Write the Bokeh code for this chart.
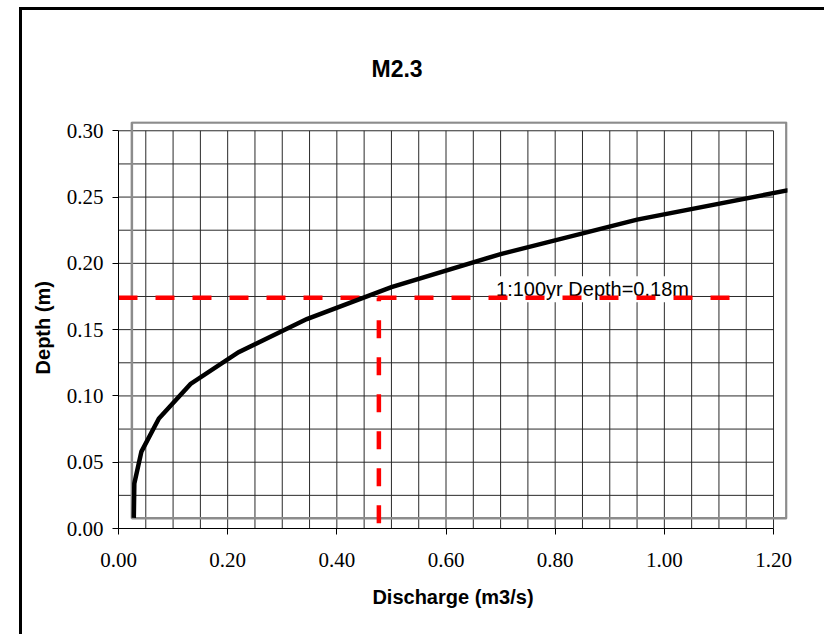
import numpy as np
from bokeh.plotting import figure
from bokeh.models import Range1d, FixedTicker, NumeralTickFormatter
from bokeh.core.properties import value
from bokeh.embed import file_html
from bokeh.resources import INLINE

# ---- data ----
discharge = [0.028, 0.029, 0.042, 0.074, 0.132, 0.220, 0.345, 0.500, 0.700, 0.950, 1.300]
depth = [0.008, 0.034, 0.058, 0.083, 0.109, 0.133, 0.158, 0.182, 0.207, 0.233, 0.261]

design_discharge = 0.477
design_depth = 0.174
design_line_end = 1.13
design_label = "1:100yr Depth=0.18m"

x_ticks = [0.0, 0.2, 0.4, 0.6, 0.8, 1.0, 1.2]
y_ticks = [0.0, 0.05, 0.10, 0.15, 0.20, 0.25, 0.30]
x_grid = [0.00, 0.05, 0.10, 0.15, 0.20, 0.25, 0.30, 0.35, 0.40, 0.45, 0.50, 0.55, 0.60,
          0.65, 0.70, 0.75, 0.80, 0.85, 0.90, 0.95, 1.00, 1.05, 1.10, 1.15, 1.20]
y_grid = [0.000, 0.025, 0.050, 0.075, 0.100, 0.125, 0.150, 0.175, 0.200, 0.225, 0.250, 0.275, 0.300]

title = "M2.3"
x_label = "Discharge (m3/s)"
y_label = "Depth  (m)"

# ---- layout constants ----
X_MAX, Y_MAX = 1.2, 0.30
inner_box = dict(left=0.0245, right=1.2235, bottom=0.0078, top=0.3063)
label_pos = (0.688, 0.1805)

p = figure(width=805, height=627,
           x_range=Range1d(0, 1.2256), y_range=Range1d(0, 0.307),
           output_backend="svg", toolbar_location=None,
           min_border_left=96, min_border_right=40,
           min_border_top=111, min_border_bottom=109,
           x_axis_label=x_label, y_axis_label=y_label)
p.outline_line_color = None
p.xgrid.visible = False
p.ygrid.visible = False
p.background_fill_color = "white"
p.border_fill_color = "white"
p.margin = (7, 0, 0, 19)
p.styles = {"border-top": "3px solid black", "border-left": "3px solid black"}

# grid
p.segment(x0=x_grid, y0=[0] * len(x_grid), x1=x_grid, y1=[Y_MAX] * len(x_grid),
          line_color="#2a2a2a", line_width=1)
p.segment(x0=[0] * len(y_grid), y0=y_grid, x1=[X_MAX] * len(y_grid), y1=y_grid,
          line_color="#2a2a2a", line_width=1)

# inner gray plot-area box
p.quad(left=[inner_box["left"]], right=[inner_box["right"]],
       bottom=[inner_box["bottom"]], top=[inner_box["top"]],
       fill_color=None, line_color="#8c8c8c", line_width=2.5)

# label with white background
p.text(x=[label_pos[0]], y=[label_pos[1]], text=[design_label],
       text_font=value("Liberation Sans"), text_font_size="20px",
       text_baseline="alphabetic", text_align="left", text_color="black",
       background_fill_color="white", padding=2)

# red dashed design lines
p.line(x=[0, design_line_end], y=[design_depth, design_depth],
       line_color="#ff0000", line_width=4.5, line_dash="19 18", line_cap="butt")
p.line(x=[design_discharge, design_discharge], y=[0.004, design_depth],
       line_color="#ff0000", line_width=4.5, line_dash="18 19", line_cap="butt")

# rating curve
p.line(x=discharge, y=depth, line_color="black", line_width=4.5, line_join="miter")

# axes
for ax, ticks, bnds in ((p.xaxis[0], x_ticks, (0, X_MAX)), (p.yaxis[0], y_ticks, (0, Y_MAX))):
    ax.ticker = FixedTicker(ticks=ticks)
    ax.formatter = NumeralTickFormatter(format="0.00")
    ax.bounds = bnds
    ax.axis_line_color = "black"
    ax.axis_line_width = 1
    ax.major_tick_in = 0
    ax.major_tick_out = 6
    ax.major_tick_line_color = "black"
    ax.minor_tick_in = 0
    ax.minor_tick_out = 0
    ax.major_label_text_font = "Liberation Serif"
    ax.major_label_text_font_size = "21px"
    ax.major_label_text_color = "black"
    ax.axis_label_text_font = "Liberation Sans"
    ax.axis_label_text_font_style = "bold"
    ax.axis_label_text_font_size = "20px"
    ax.axis_label_text_color = "black"

p.xaxis[0].major_label_standoff = 18
p.xaxis[0].axis_label_standoff = 16
p.yaxis[0].major_label_standoff = 9
p.yaxis[0].axis_label_standoff = 10

# title
p.title.text = title
p.title.text_font = "Liberation Sans"
p.title.text_font_style = "bold"
p.title.text_font_size = "23px"
p.title.text_color = "black"
p.title.align = "left"
p.title.offset = 253
p.title.standoff = 80

open("out.html", "w").write(file_html(p, INLINE))
